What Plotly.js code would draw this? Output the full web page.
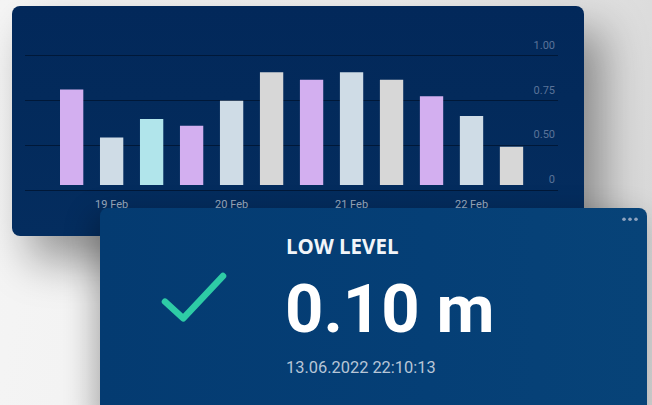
<!DOCTYPE html>
<html>
<head>
<meta charset="utf-8">
<script src="https://cdn.plot.ly/plotly-3.0.1.min.js"></script>
<style>
  html, body { margin:0; padding:0; }
  body {
    width:652px; height:405px; overflow:hidden; position:relative;
    background: linear-gradient(100deg, #f5f5f5 0%, #efefef 55%, #e2e2e2 80%, #d6d6d6 100%);
    font-family: Roboto, "Open Sans", sans-serif;
  }
  #card1 {
    position:absolute; left:12px; top:6px; width:572px; height:230px;
    border-radius:8px; overflow:hidden;
    background: linear-gradient(180deg, #02285a 0%, #032a5b 40%, #042d5f 100%);
    box-shadow: 18px 24px 45px rgba(0,0,0,0.40);
  }
  #chart { position:absolute; left:0; top:0; width:572px; height:230px; }
  #card2 {
    position:absolute; left:100px; top:208px; width:547px; height:215px;
    border-radius:8px; overflow:hidden;
    background: linear-gradient(90deg, #043b71 0%, #053f76 60%, #074378 100%);
    box-shadow: -6px 8px 30px rgba(0,0,0,0.30);
  }
  .t { position:absolute; white-space:nowrap; margin:0; }
  #lbl { left:186px; top:24px; font-family:"Open Sans", sans-serif; font-weight:700; font-size:20.5px; line-height:normal; color:#f2f5f9; }
  #val { left:185px; top:62px; font-family:Roboto, sans-serif; font-weight:700; font-size:67px; line-height:normal; color:#ffffff; }
  #ts  { left:186px; top:150px; font-family:Roboto, sans-serif; font-weight:400; font-size:16.4px; line-height:normal; color:#b8c6d7; }
  #dots { position:absolute; left:0; top:0; }
  #check { position:absolute; left:0; top:0; }
</style>
</head>
<body>
<div id="card1"><div id="chart"></div></div>
<div id="card2">
  <svg id="dots" width="547" height="40"><circle cx="524" cy="11.3" r="1.8" fill="#8fa3bf"/><circle cx="530" cy="11.3" r="1.8" fill="#8fa3bf"/><circle cx="536" cy="11.3" r="1.8" fill="#8fa3bf"/></svg>
  <svg id="check" width="200" height="200"><polyline points="65,93.7 83.3,110.3 123,68" fill="none" stroke="#2ecba6" stroke-width="6.5" stroke-linecap="round" stroke-linejoin="round"/></svg>
  <p class="t" id="lbl">LOW LEVEL</p>
  <p class="t" id="val">0.10 m</p>
  <p class="t" id="ts">13.06.2022 22:10:13</p>
</div>
<script>
// ---- data ----
const times = [
  '2022-02-19 04:00', '2022-02-19 12:00', '2022-02-19 20:00',
  '2022-02-20 04:00', '2022-02-20 12:00', '2022-02-20 20:00',
  '2022-02-21 04:00', '2022-02-21 12:00', '2022-02-21 20:00',
  '2022-02-22 04:00', '2022-02-22 12:00', '2022-02-22 20:00'
];
const levels = [0.740, 0.369, 0.512, 0.460, 0.652, 0.873, 0.816, 0.873, 0.816, 0.688, 0.535, 0.296];
const yTickLabels = ['0', '0.50', '0.75', '1.00'];
const firstTick = '2022-02-19 12:00';

// ---- styles ----
const PURPLE = '#d3aff0', BLUEGRAY = '#cfdce6', CYAN = '#b1e5eb', GRAY = '#d7d7d7';
const barColors = [PURPLE, BLUEGRAY, CYAN, PURPLE, BLUEGRAY, GRAY, PURPLE, BLUEGRAY, GRAY, PURPLE, BLUEGRAY, GRAY];

const lo = -0.039;
const pad = 0.023;
const tickVals = yTickLabels.map((_, i) => lo + i * (1 - lo) / (yTickLabels.length - 1));

Plotly.newPlot('chart', [{
  type: 'bar',
  x: times,
  y: levels,
  marker: { color: barColors, line: { width: 0 } },
  hoverinfo: 'skip'
}], {
  width: 572, height: 230,
  margin: { l: 13, r: 26, t: 47, b: 43, pad: 0 },
  paper_bgcolor: 'rgba(0,0,0,0)',
  plot_bgcolor: 'rgba(0,0,0,0)',
  bargap: 0.417,
  showlegend: false,
  font: { family: 'Roboto, sans-serif' },
  xaxis: {
    type: 'date',
    range: ['2022-02-18 18:40', '2022-02-23 05:18'],
    tickmode: 'linear', tick0: firstTick, dtick: 86400000,
    tickformat: '%-d %b',
    showgrid: false, zeroline: false, showline: false, ticks: '',
    tickfont: { size: 11, color: '#9aabc0' },
    ticklabelstandoff: 3
  },
  yaxis: {
    side: 'right',
    range: [lo - pad, 1 + pad],
    tickmode: 'array', tickvals: tickVals, ticktext: yTickLabels,
    ticklabelposition: 'inside top',
    ticklabeloverflow: 'allow',
    ticklabelshift: -3,
    showgrid: true, gridcolor: '#001838', gridwidth: 1,
    zeroline: false, showline: false, ticks: '',
    tickfont: { size: 11, color: '#5a7399' }
  }
}, { staticPlot: true, displayModeBar: false });
</script>
</body>
</html>
